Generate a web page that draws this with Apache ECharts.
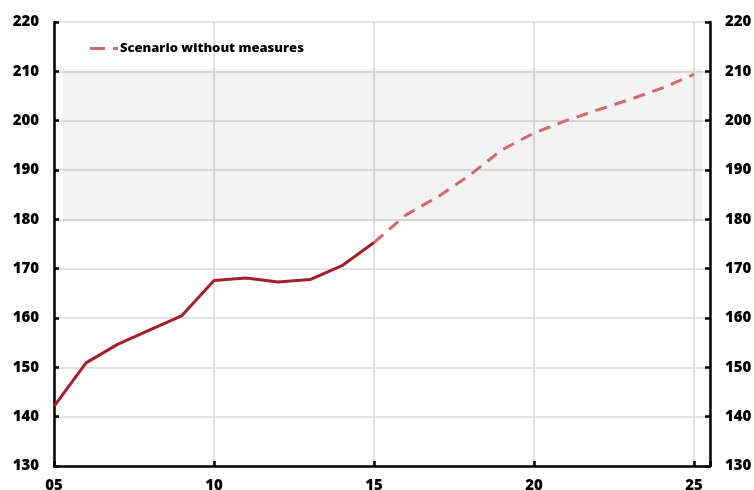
<!DOCTYPE html>
<html>
<head>
<meta charset="utf-8">
<script src="https://cdn.jsdelivr.net/npm/echarts@6/dist/echarts.min.js"></script>
<style>
  html, body { margin: 0; padding: 0; background: #fff; }
  #chart { width: 754px; height: 490px; }
</style>
</head>
<body>
<div id="chart"></div>
<script>
// Historical path, 2005-2015
const histYears = [2005, 2006, 2007, 2008, 2009, 2010, 2011, 2012, 2013, 2014, 2015];
const histValues = [142.1, 150.9, 154.7, 157.6, 160.5, 167.6, 168.1, 167.3, 167.8, 170.6, 175.3];

// Projection without measures, 2015-2025
const scenYears = [2015, 2016, 2017, 2018, 2019, 2020, 2021, 2022, 2023, 2024, 2025];
const scenValues = [175.3, 180.9, 184.6, 189.0, 194.1, 197.5, 200.0, 202.2, 204.3, 206.6, 209.4];

// Shaded reference range (years, values)
const bandYears = [2005.28, 2025.25];
const bandValues = [179.5, 210.5];

const scenarioName = 'Scenario without measures';

const pair = (xs, ys) => xs.map((x, i) => [x, ys[i]]);

const FONT = '"Open Sans", "Noto Sans", sans-serif';
const labelStyle = { color: '#000', fontWeight: 800, fontSize: 15, fontFamily: FONT };

const yAxisBase = (pos) => ({
  type: 'value',
  position: pos,
  min: 130,
  max: 220,
  interval: 10,
  axisLine: { show: true, onZero: false, lineStyle: { color: '#000', width: 2.5 } },
  axisTick: { show: true, inside: true, length: 5, lineStyle: { color: '#000', width: 2.5 } },
  axisLabel: Object.assign({ margin: 15 }, labelStyle),
  splitLine: { show: pos === 'left', lineStyle: { color: '#d9d9d9', width: 1.5 } }
});

const chart = echarts.init(document.getElementById('chart'), null, { renderer: 'canvas' });
chart.setOption({
  animation: false,
  backgroundColor: '#fff',
  grid: { left: 54, right: 44, top: 22, bottom: 24, containLabel: false, outerBoundsMode: 'none' },
  legend: {
    data: [{
      name: scenarioName,
      // long dash, gap, short dash
      icon: 'path://M0,0h15v3h-15z M23,0h5v3h-5z'
    }],
    left: 85,
    top: 37,
    itemWidth: 28,
    itemHeight: 3,
    itemStyle: { color: '#cf6a6a' },
    textStyle: { color: '#000', fontWeight: 800, fontSize: 13, fontFamily: FONT, padding: [0, 0, 0, -3] }
  },
  xAxis: {
    type: 'value',
    min: 2005,
    max: 2025.5,
    interval: 5,
    axisLine: { show: true, onZero: false, lineStyle: { color: '#000', width: 2.5 } },
    axisTick: { show: true, inside: true, length: 5, lineStyle: { color: '#000', width: 2.5 } },
    axisLabel: Object.assign({
      margin: 12,
      formatter: (v) => (v % 5 === 0 ? String(v % 100).padStart(2, '0') : '')
    }, labelStyle),
    splitLine: { show: true, lineStyle: { color: '#d9d9d9', width: 1.5 } }
  },
  yAxis: [yAxisBase('left'), yAxisBase('right')],
  series: [
    {
      name: 'history',
      type: 'line',
      data: pair(histYears, histValues),
      symbol: 'none',
      lineStyle: { color: '#a51f2b', width: 3 },
      itemStyle: { color: '#a51f2b' },
      z: 3,
      markArea: {
        silent: true,
        itemStyle: { color: 'rgba(0,0,0,0.05)' },
        data: [[
          { coord: [bandYears[0], bandValues[0]] },
          { coord: [bandYears[1], bandValues[1]] }
        ]]
      }
    },
    {
      name: scenarioName,
      type: 'line',
      data: pair(scenYears, scenValues),
      symbol: 'none',
      lineStyle: { color: '#cf6a6a', width: 3, type: [12, 8] },
      itemStyle: { color: '#cf6a6a' },
      z: 3
    }
  ]
});
</script>
</body>
</html>
